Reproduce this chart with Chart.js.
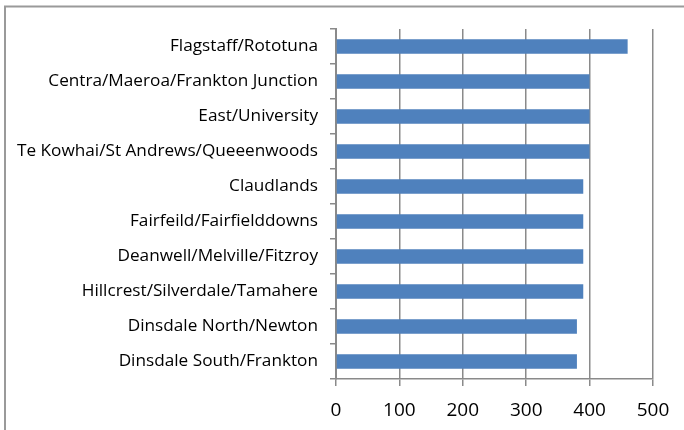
<!DOCTYPE html>
<html>
<head>
<meta charset="utf-8">
<script src="https://cdn.jsdelivr.net/npm/chart.js@4/dist/chart.umd.min.js"></script>
<style>
  html, body { margin: 0; padding: 0; background: #fff; }
  #wrap { width: 684px; height: 430px; position: relative; }
</style>
</head>
<body>
<div id="wrap"><canvas id="chart" width="684" height="430"></canvas></div>
<script>
// areas, top to bottom as shown
const areas = [
    'Flagstaff/Rototuna',
    'Centra/Maeroa/Frankton Junction',
    'East/University',
    'Te Kowhai/St Andrews/Queeenwoods',
    'Claudlands',
    'Fairfeild/Fairfielddowns',
    'Deanwell/Melville/Fitzroy',
    'Hillcrest/Silverdale/Tamahere',
    'Dinsdale North/Newton',
    'Dinsdale South/Frankton'
];
const counts = [460, 400, 400, 400, 390, 390, 390, 390, 380, 380];
const xTicks = [0, 100, 200, 300, 400, 500];

const gridGrey = '#8a8a8a';

// outer frame of the chart object (only left and top edges are visible)
const framePlugin = {
    id: 'frame',
    beforeDraw(chart) {
        const c = chart.ctx;
        c.save();
        c.strokeStyle = '#9a9a9a';
        c.lineWidth = 2;
        c.beginPath();
        c.moveTo(5, 432);
        c.lineTo(5, 6.5);
        c.lineTo(690, 6.5);
        c.stroke();
        c.restore();
    }
};

const ctx = document.getElementById('chart').getContext('2d');
new Chart(ctx, {
    type: 'bar',
    data: {
        labels: areas,
        datasets: [{
            data: counts,
            backgroundColor: '#4f81bd',
            borderWidth: 0,
            barPercentage: 0.42,
            categoryPercentage: 1
        }]
    },
    options: {
        indexAxis: 'y',
        responsive: false,
        animation: false,
        layout: { padding: { left: 0, right: 31, top: 29, bottom: 0 } },
        plugins: { legend: { display: false }, tooltip: { enabled: false } },
        scales: {
            x: {
                min: 0,
                max: 500,
                afterBuildTicks(scale) {
                    scale.ticks = xTicks.map(v => ({ value: v }));
                },
                afterFit(scale) { scale.height = 51; },
                grid: { color: gridGrey, lineWidth: 1.5, tickLength: 7 },
                border: { color: gridGrey, width: 1.5 },
                ticks: {
                    color: '#000',
                    padding: 13,
                    font: { family: 'Open Sans', size: 19 }
                }
            },
            y: {
                afterFit(scale) { scale.width = 336; },
                grid: { drawOnChartArea: false, color: gridGrey, lineWidth: 1.5, tickLength: 6, offset: true },
                border: { color: gridGrey, width: 2 },
                ticks: {
                    color: '#000',
                    padding: 12,
                    font: { family: 'Open Sans', size: 17.2 }
                }
            }
        }
    },
    plugins: [framePlugin]
});
</script>
</body>
</html>
